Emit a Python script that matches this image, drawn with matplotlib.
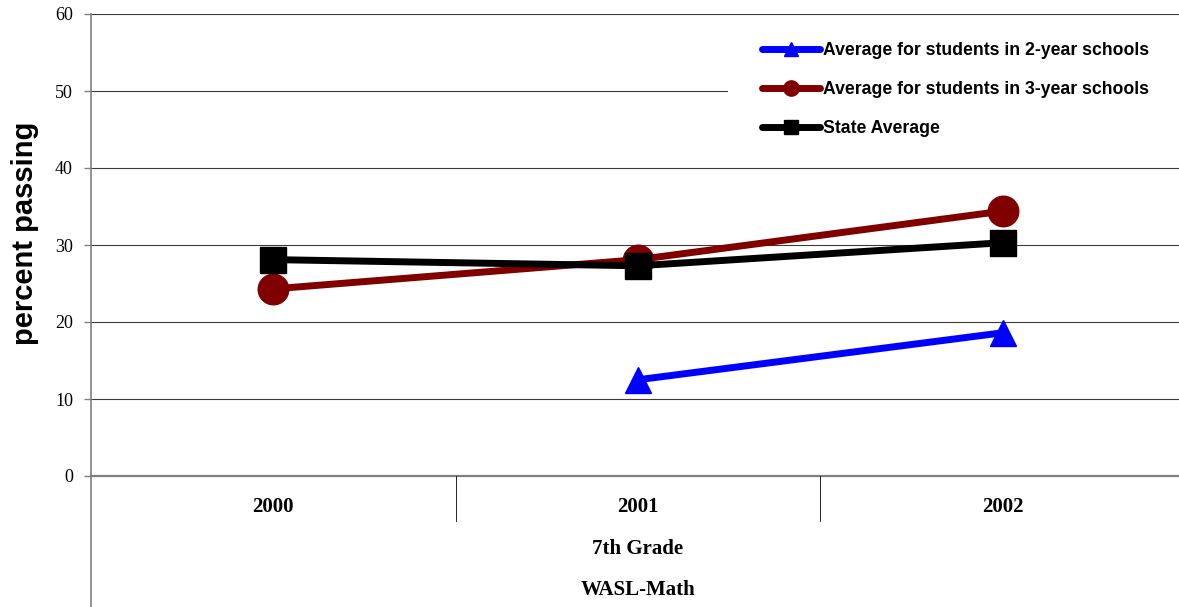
import numpy as np
import matplotlib
matplotlib.use("Agg")
import matplotlib.pyplot as plt
from matplotlib.patches import Rectangle

# Percent of 7th graders passing WASL math
years = ["2000", "2001", "2002"]
two_year = [np.nan, 12.5, 18.6]
three_year = [24.3, 28.1, 34.4]
state_avg = [28.1, 27.3, 30.3]

labels = [
    "Average for students in 2-year schools",
    "Average for students in 3-year schools",
    "State Average",
]
yticks = [0, 10, 20, 30, 40, 50, 60]

W, H = 1179, 607
fig = plt.figure(figsize=(W / 100, H / 100), dpi=100)
left_px, right_px, top_px, zero_px = 91, 1185, 14, 476
ax = fig.add_axes([left_px / W, (H - zero_px) / H,
                   (right_px - left_px) / W, (zero_px - top_px) / H])

x = np.arange(len(years))
ax.set_xlim(-0.5, len(years) - 0.5)
ax.set_ylim(0, 60)

serif = "Liberation Serif"
sans = "Liberation Sans"

# horizontal gridlines
for t in yticks[1:]:
    ax.axhline(t, color="#3a3a3a", lw=0.8, zorder=0.5)
ax.axhline(0, color="#808080", lw=1.6, zorder=0.6, clip_on=False)

l1, = ax.plot(x, two_year, color="#0000FF", lw=5, marker="^", ms=19,
              solid_capstyle="round", zorder=3)
l2, = ax.plot(x, three_year, color="#800000", lw=5, marker="o", ms=22,
              solid_capstyle="round", zorder=3)
l3, = ax.plot(x, state_avg, color="#000000", lw=5, marker="s", ms=19,
              solid_capstyle="round", zorder=4)

# spines and ticks
for s in ["top", "right", "bottom"]:
    ax.spines[s].set_visible(False)
ax.spines["left"].set_color("#808080")
ax.spines["left"].set_linewidth(1.2)
ax.set_yticks(yticks)
ax.set_yticklabels([str(t) for t in yticks], fontfamily=serif, fontsize=13)
ax.tick_params(axis="y", length=5, width=1, color="#808080", pad=8)
ax.set_xticks([])

# left axis line continues down through the category area
bottom_frac = -(H - zero_px) / (zero_px - top_px)
ax.plot([0, 0], [0, bottom_frac], transform=ax.transAxes, color="#808080",
        lw=1.2, clip_on=False)

# category separators and labels
xt = ax.get_xaxis_transform()
px = lambda r: (zero_px - r) / (zero_px - top_px)
for b in [0.5, 1.5]:
    ax.plot([b, b], [0, px(521)], transform=xt, color="#000000", lw=0.6,
            clip_on=False)
for xi, yr in zip(x, years):
    ax.text(xi, px(507), yr, transform=xt, ha="center", va="center",
            fontfamily=serif, fontweight="bold", fontsize=15)
ax.text(1, px(549), "7th Grade", transform=xt, ha="center", va="center",
        fontfamily=serif, fontweight="bold", fontsize=15)
ax.text(1, px(590), "WASL-Math", transform=xt, ha="center", va="center",
        fontfamily=serif, fontweight="bold", fontsize=15)

ax.set_ylabel("percent passing", fontfamily=sans, fontweight="bold",
              fontsize=21)
ax.yaxis.set_label_coords((39 - left_px) / (right_px - left_px), px(233))

# white panel behind the legend
x0 = (728 - left_px) / (right_px - left_px)
ax.add_patch(Rectangle((x0, px(150)), 1 - x0, px(25) - px(150),
                       transform=ax.transAxes, facecolor="white",
                       edgecolor="none", zorder=1))

leg = ax.legend([l1, l2, l3], labels, loc="upper left",
                bbox_to_anchor=(762 / W, (H - 42) / H),
                bbox_transform=fig.transFigure, frameon=False,
                borderaxespad=0, borderpad=0, handlelength=3.3,
                handletextpad=0.17, labelspacing=1.25, markerscale=0.5,
                prop={"family": sans, "weight": "bold", "size": 12.7})

fig.savefig("out.png", dpi=100, facecolor="white")
